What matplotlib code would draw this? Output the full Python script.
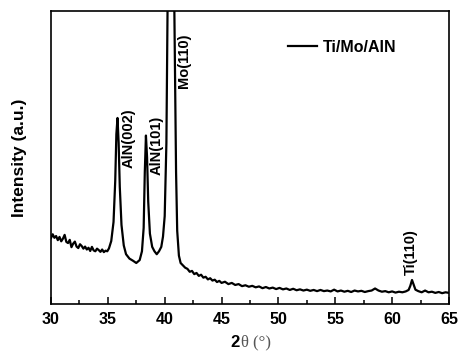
import matplotlib.pyplot as plt
from matplotlib.ticker import MultipleLocator

plt.rcParams['font.family'] = ['Liberation Sans', 'DejaVu Sans']
plt.rcParams['font.weight'] = 'bold'

# 2theta (deg) and intensity (a.u., 0-100 = axis height)
two_theta = [30.0, 30.15, 30.3, 30.45, 30.6, 30.75, 30.9, 31.05, 31.2, 31.35,
             31.5, 31.65, 31.8, 31.95, 32.1, 32.25, 32.4, 32.55, 32.7, 32.85,
             33.0, 33.15, 33.3, 33.45, 33.6, 33.75, 33.9, 34.05, 34.2, 34.35,
             34.5, 34.65, 34.8, 34.95, 35.1,
             35.3, 35.5, 35.65, 35.75, 35.85, 35.95, 36.05, 36.2, 36.4, 36.6,
             36.9, 37.2, 37.5, 37.8, 38.0, 38.15, 38.25, 38.35, 38.45, 38.55,
             38.7, 38.9, 39.1, 39.3, 39.5, 39.7, 39.85, 40.0, 40.15, 40.25,
             40.55, 40.85, 41.0, 41.1, 41.25,
             41.4, 41.6, 41.8, 42.0, 42.2, 42.4, 42.6, 42.8, 43.0, 43.2,
             43.4, 43.6, 43.8, 44.0, 44.2, 44.4, 44.6, 44.8, 45.0, 45.3,
             45.6, 45.9, 46.2, 46.5, 46.8, 47.1, 47.4, 47.7, 48.0, 48.3,
             48.6, 48.9, 49.2, 49.5, 49.8, 50.1, 50.4, 50.7, 51.0, 51.3,
             51.6, 51.9, 52.2, 52.5, 52.8, 53.1, 53.4, 53.7, 54.0, 54.3,
             54.6, 54.9, 55.2, 55.5, 55.8, 56.1, 56.4, 56.7, 57.0, 57.3,
             57.6, 57.9, 58.2, 58.5, 58.8, 59.1, 59.4, 59.7, 60.0, 60.3,
             60.6, 60.9, 61.2, 61.45, 61.6, 61.75, 61.9, 62.05, 62.3, 62.6,
             62.9, 63.2, 63.5, 63.8, 64.1, 64.4, 64.7, 65.0]
intensity = [22.5, 23.8, 22.6, 23.2, 21.8, 22.9, 21.4, 22.3, 23.6, 21.2,
             20.8, 21.9, 19.4, 20.6, 21.3, 19.6, 19.1, 20.4, 19.8, 18.9,
             19.6, 18.6, 19.2, 18.1, 19.5, 18.3, 18.0, 18.9, 18.4, 17.8,
             18.6, 17.7, 18.2, 18.0, 19.0,
             21.5, 28.0, 42.0, 58.0, 63.5, 55.0, 40.0, 27.0, 20.0, 17.0,
             15.5, 14.8, 14.0, 15.0, 18.0, 26.0, 45.0, 57.5, 50.0, 35.0,
             24.0, 19.5, 18.0, 17.0, 18.0, 19.5, 23.0, 30.0, 55.0, 100.0,
             130.0, 100.0, 45.0, 25.0, 16.5,
             14.0, 13.2, 12.4, 12.0, 11.0, 11.3, 10.2, 10.6, 9.6, 10.0,
             9.0, 9.3, 8.4, 8.8, 8.0, 8.3, 7.5, 7.9, 7.2, 7.6,
             6.8, 7.2, 6.5, 6.8, 6.1, 6.4, 5.9, 6.2, 5.7, 6.0,
             5.4, 5.8, 5.3, 5.6, 5.1, 5.5, 5.0, 5.3, 4.8, 5.2,
             4.7, 5.0, 4.6, 4.9, 4.5, 4.8, 4.4, 4.8, 4.4, 4.6,
             4.3, 4.9, 4.3, 4.6, 4.2, 4.5, 4.1, 4.6, 4.3, 4.5,
             4.1, 4.4, 4.6, 5.3, 4.6, 4.2, 4.4, 4.0, 4.3, 3.9,
             4.2, 4.0, 4.3, 4.8, 6.2, 8.2, 6.6, 4.9, 4.4, 4.0,
             4.6, 4.0, 4.2, 3.8, 4.1, 3.7, 4.0, 3.8]
assert len(two_theta) == len(intensity)

peak_labels = ["AlN(002)", "AlN(101)", "Mo(110)", "Ti(110)"]
label_x = [36.8, 39.3, 41.7, 61.65]
label_y = [56.6, 54.3, 83.0, 17.7]

fig = plt.figure(figsize=(4.61, 3.54), dpi=100)
ax = fig.add_axes([0.1106, 0.1412, 0.8633, 0.8277])

ax.plot(two_theta, intensity, color="black", linewidth=1.6, label="Ti/Mo/AlN")

for name, xx, yy in zip(peak_labels, label_x, label_y):
    ax.text(xx, yy, name, rotation=90, ha="center", va="center",
            fontsize=10.5, fontweight="bold")

ax.set_xlim(30, 65)
ax.set_ylim(0, 100)
ax.xaxis.set_major_locator(MultipleLocator(5))
ax.xaxis.set_minor_locator(MultipleLocator(2.5))
ax.tick_params(axis="x", which="both", direction="in", labelsize=11.5,
               width=1.1, pad=6)
ax.tick_params(axis="x", which="major", length=5)
ax.tick_params(axis="x", which="minor", length=3)
ax.set_yticks([])
for s in ax.spines.values():
    s.set_linewidth(1.2)

ax.set_ylabel("Intensity (a.u.)", fontsize=12.5, fontweight="bold", labelpad=17)

# x label: bold "2" then a grey serif "θ (°)"
ax.text(0.475, -0.13, "2", transform=ax.transAxes, ha="right", va="center",
        fontsize=12, fontweight="bold")
ax.text(0.477, -0.13, "θ (°)", transform=ax.transAxes, ha="left", va="center",
        fontsize=12, fontweight="normal", color="#555555",
        family=["Liberation Serif", "DejaVu Serif"])

ax.legend(loc="upper right", bbox_to_anchor=(0.905, 0.95), frameon=False,
          fontsize=11.5, handlelength=1.8, handletextpad=0.4)

fig.savefig("out.png", dpi=100)
